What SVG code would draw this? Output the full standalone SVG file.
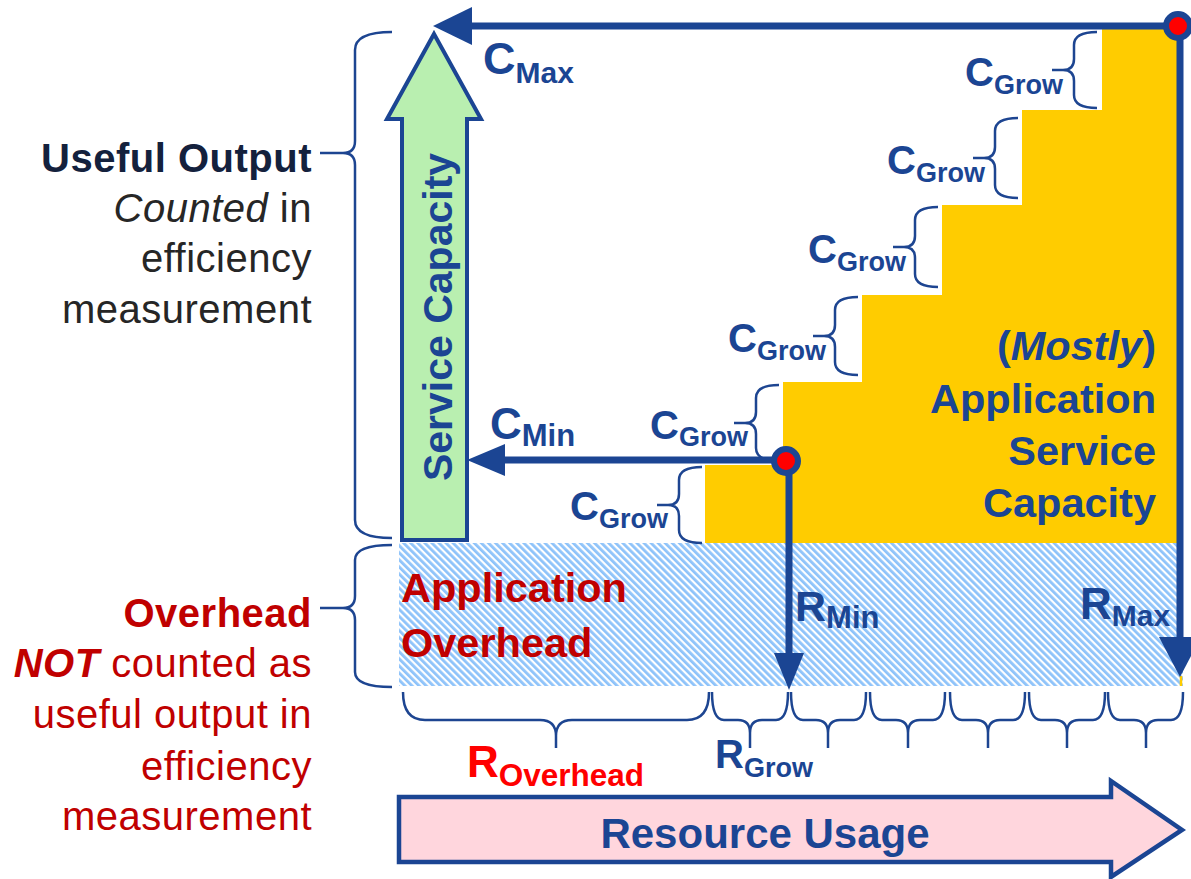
<svg xmlns="http://www.w3.org/2000/svg" width="1191" height="879" viewBox="0 0 1191 879">
  <defs>
    <pattern id="hatch" width="5" height="5" patternUnits="userSpaceOnUse" patternTransform="rotate(-45)">
      <rect width="5" height="5" fill="#ffffff"/>
      <rect width="2.8" height="5" fill="#8ec3fa"/>
    </pattern>
    <style>
      text { font-family: "Liberation Sans", Arial, sans-serif; }
      .blue { fill: #1b4593; font-weight: bold; }
      .red { fill: #c00000; font-weight: bold; }
      .big { font-size: 40px; }
      .sub { font-size: 27px; }
      .side { font-size: 40px; letter-spacing: 0.5px; }
      .brace { fill: none; stroke: #1d4591; stroke-width: 2.5; stroke-linejoin: round; }
      .conn { stroke: #1b4593; stroke-width: 7; fill: none; }
      .head { fill: #1b4593; }
      .dot { fill: #ff0000; stroke: #1b4593; stroke-width: 6; }
    </style>
  </defs>

  <!-- overhead band and capacity staircase -->
  <g id="overhead-band">
    <rect x="399" y="543" width="784" height="143" fill="url(#hatch)"/>
    <line x1="1181" y1="676" x2="1181" y2="686" stroke="#ffcc00" stroke-width="2.5"/>
  </g>
  <g id="staircase">
    <polygon fill="#ffcc00" points="705,543 705,465 783,465 783,382 862,382 862,295 942,295 942,205 1022,205 1022,110 1102,110 1102,28 1181,28 1181,543"/>
  </g>

  <!-- left side labels -->
  <g id="useful-output">
    <path class="brace" d="M392 32 Q355 32 355 50 L355 141 Q355 153 343 153 L320 153 M343 153 Q355 153 355 165 L355 520 Q355 538 392 538"/>
    <text x="312" y="172" text-anchor="end" class="side" font-weight="bold" fill="#14213d">Useful Output</text>
    <text x="312" y="222" text-anchor="end" class="side" fill="#262626"><tspan font-style="italic">Counted</tspan> in</text>
    <text x="312" y="272" text-anchor="end" class="side" fill="#262626">efficiency</text>
    <text x="312" y="323" text-anchor="end" class="side" fill="#262626">measurement</text>
  </g>
  <g id="overhead">
    <path class="brace" d="M392 545 Q355 545 355 560 L355 596 Q355 608 343 608 L320 608 M343 608 Q355 608 355 620 L355 672 Q355 687 392 687"/>
    <text x="312" y="627" text-anchor="end" class="side" font-weight="bold" fill="#c00000">Overhead</text>
    <text x="312" y="677" text-anchor="end" class="side" fill="#c00000"><tspan font-weight="bold" font-style="italic">NOT</tspan> counted as</text>
    <text x="312" y="728" text-anchor="end" class="side" fill="#c00000">useful output in</text>
    <text x="312" y="780" text-anchor="end" class="side" fill="#c00000">efficiency</text>
    <text x="312" y="830" text-anchor="end" class="side" fill="#c00000">measurement</text>
  </g>

  <!-- service capacity arrow -->
  <g id="service-capacity">
    <path d="M434 34 L481 119 L467 119 L467 540 L402 540 L402 119 L387 119 Z" fill="#b9efb0" stroke="#1b4593" stroke-width="4" stroke-linejoin="miter"/>
    <text transform="translate(452,317) rotate(-90)" text-anchor="middle" class="blue" font-size="41">Service Capacity</text>
  </g>

  <!-- resource usage arrow -->
  <g id="resource-usage">
    <path d="M399 797 L1111 797 L1111 781 L1182 830 L1111 877 L1111 862 L399 862 Z" fill="#ffd6dd" stroke="#1b4593" stroke-width="4.5" stroke-linejoin="miter"/>
    <text x="765" y="848" text-anchor="middle" class="blue" font-size="42">Resource Usage</text>
  </g>

  <g id="overhead-label">
    <text x="401" y="602" class="red" font-size="41.5">Application</text>
    <text x="401" y="657" class="red" font-size="41.5">Overhead</text>
  </g>

  <g id="capacity-label">
    <text x="1156" y="360" text-anchor="end" class="blue" font-size="41.5">(<tspan font-style="italic">Mostly</tspan>)</text>
    <text x="1156" y="413" text-anchor="end" class="blue" font-size="41.5">Application</text>
    <text x="1156" y="465" text-anchor="end" class="blue" font-size="41.5">Service</text>
    <text x="1156" y="517" text-anchor="end" class="blue" font-size="41.5">Capacity</text>
  </g>

  <!-- growth step braces -->
  <g id="c-grow-1">
    <path class="brace" d="M702 467 Q679 467 679 480 L679 494 Q679 505 668 505 L657 505 M668 505 Q679 505 679 516 L679 530 Q679 543 702 543"/>
    <text x="668" y="520" text-anchor="end" class="blue"><tspan class="big">C</tspan><tspan class="sub" dy="8">Grow</tspan></text>
  </g>
  <g id="c-grow-2">
    <path class="brace" d="M779 385 Q756 385 756 398 L756 412 Q756 423 745 423 L734 423 M745 423 Q756 423 756 434 L756 448 Q756 461 779 461"/>
    <text x="748" y="439" text-anchor="end" class="blue"><tspan class="big">C</tspan><tspan class="sub" dy="7">Grow</tspan></text>
  </g>
  <g id="c-grow-3">
    <path class="brace" d="M858 297 Q835 297 835 310 L835 325 Q835 336 824 336 L813 336 M824 336 Q835 336 835 347 L835 362 Q835 375 858 375"/>
    <text x="826" y="352" text-anchor="end" class="blue"><tspan class="big">C</tspan><tspan class="sub" dy="8">Grow</tspan></text>
  </g>
  <g id="c-grow-4">
    <path class="brace" d="M938 207 Q915 207 915 220 L915 236 Q915 247 904 247 L893 247 M904 247 Q915 247 915 258 L915 274 Q915 287 938 287"/>
    <text x="906" y="263" text-anchor="end" class="blue"><tspan class="big">C</tspan><tspan class="sub" dy="8">Grow</tspan></text>
  </g>
  <g id="c-grow-5">
    <path class="brace" d="M1018 118 Q995 118 995 131 L995 147 Q995 158 984 158 L973 158 M984 158 Q995 158 995 169 L995 185 Q995 198 1018 198"/>
    <text x="985" y="174" text-anchor="end" class="blue"><tspan class="big">C</tspan><tspan class="sub" dy="8">Grow</tspan></text>
  </g>
  <g id="c-grow-6">
    <path class="brace" d="M1097 32 Q1074 32 1074 45 L1074 59 Q1074 70 1063 70 L1052 70 M1063 70 Q1074 70 1074 81 L1074 95 Q1074 108 1097 108"/>
    <text x="1063" y="86" text-anchor="end" class="blue"><tspan class="big">C</tspan><tspan class="sub" dy="8">Grow</tspan></text>
  </g>

  <!-- resource braces -->
  <g id="r-overhead">
    <path class="brace" d="M403 692 Q403 720 425 720 L540 720 Q556 720 556 736 L556 748 M556 736 Q556 720 572 720 L687 720 Q709 720 709 692"/>
    <text x="467" y="777" fill="#ff0000" font-weight="bold"><tspan font-size="44">R</tspan><tspan font-size="31.5" dy="9">Overhead</tspan></text>
  </g>
  <g id="r-grow">
    <path class="brace" d="M712 692 Q712 720 724 720 L738 720 Q750 720 750 733 L750 748 M750 733 Q750 720 762 720 L776 720 Q788 720 788 692"/>
    <path class="brace" d="M791 692 Q791 720 803 720 L816 720 Q828 720 828 733 L828 748 M828 733 Q828 720 840 720 L854 720 Q866 720 866 692"/>
    <path class="brace" d="M870 692 Q870 720 882 720 L896 720 Q908 720 908 733 L908 748 M908 733 Q908 720 920 720 L933 720 Q945 720 945 692"/>
    <path class="brace" d="M950 692 Q950 720 962 720 L976 720 Q988 720 988 733 L988 748 M988 733 Q988 720 1000 720 L1013 720 Q1025 720 1025 692"/>
    <path class="brace" d="M1029 692 Q1029 720 1041 720 L1055 720 Q1067 720 1067 733 L1067 748 M1067 733 Q1067 720 1079 720 L1093 720 Q1105 720 1105 692"/>
    <path class="brace" d="M1108 692 Q1108 720 1120 720 L1134 720 Q1146 720 1146 733 L1146 748 M1146 733 Q1146 720 1158 720 L1171 720 Q1183 720 1183 692"/>
    <text x="715" y="768" class="blue"><tspan font-size="40">R</tspan><tspan class="sub" dy="9">Grow</tspan></text>
  </g>

  <!-- connectors -->
  <g id="connectors">
    <line class="conn" x1="1178" y1="26" x2="470" y2="26"/>
    <polygon class="head" points="433,26 472,7 472,45"/>
    <line class="conn" x1="1180" y1="26" x2="1180" y2="640"/>
    <polygon class="head" points="1180,677 1159,637 1201,637"/>
    <line class="conn" x1="786" y1="460" x2="503" y2="460"/>
    <polygon class="head" points="467,460 505,444 505,476"/>
    <line class="conn" x1="789" y1="461" x2="789" y2="656"/>
    <polygon class="head" points="789,690 774,653 804,653"/>
    <circle class="dot" cx="786" cy="461" r="12"/>
    <circle class="dot" cx="1178" cy="26" r="12"/>
  </g>

  <g id="c-max">
    <text x="483" y="74" class="blue"><tspan font-size="45">C</tspan><tspan font-size="30" dy="9">Max</tspan></text>
  </g>
  <g id="c-min">
    <text x="490" y="439" class="blue"><tspan font-size="44">C</tspan><tspan font-size="31" dy="7">Min</tspan></text>
  </g>
  <g id="r-min">
    <text x="795" y="621" class="blue"><tspan font-size="43">R</tspan><tspan font-size="31" dy="7">Min</tspan></text>
  </g>
  <g id="r-max">
    <text x="1080" y="619" class="blue"><tspan font-size="44">R</tspan><tspan font-size="30" dy="7">Max</tspan></text>
  </g>
</svg>
